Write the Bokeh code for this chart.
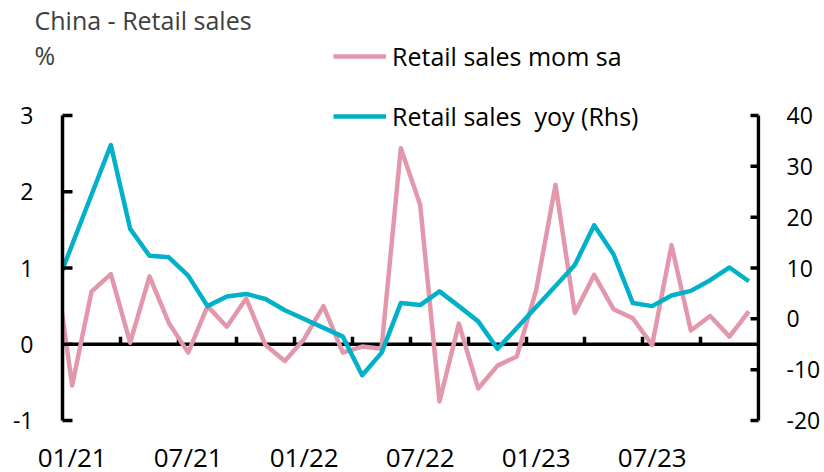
from bokeh.plotting import figure
from bokeh.models import (Range1d, LinearAxis, FixedTicker, Label, Legend,
                          LegendItem, ColumnDataSource)
from bokeh.embed import file_html
from bokeh.resources import INLINE
from bokeh.core.properties import value

# ---------------- data ----------------
months = ["2020-12",
          "2021-01", "2021-02", "2021-03", "2021-04", "2021-05", "2021-06",
          "2021-07", "2021-08", "2021-09", "2021-10", "2021-11", "2021-12",
          "2022-01", "2022-02", "2022-03", "2022-04", "2022-05", "2022-06",
          "2022-07", "2022-08", "2022-09", "2022-10", "2022-11", "2022-12",
          "2023-01", "2023-02", "2023-03", "2023-04", "2023-05", "2023-06",
          "2023-07", "2023-08", "2023-09", "2023-10", "2023-11", "2023-12"]

mom_sa = [1.26,
          -0.54, 0.69, 0.92, 0.02, 0.89, 0.28, -0.11, 0.50, 0.23, 0.60, -0.01, -0.22,
          0.07, 0.50, -0.11, -0.03, -0.06, 2.57, 1.83, -0.75, 0.27, -0.58, -0.28, -0.16,
          0.71, 2.09, 0.41, 0.91, 0.46, 0.34, -0.01, 1.30, 0.18, 0.37, 0.10, 0.43]

# Jan/Feb are not published separately: no value, the line joins across the gap
yoy = [4.8,
       None, None, 34.2, 17.7, 12.4, 12.1, 8.5, 2.5, 4.4, 4.9, 3.9, 1.7,
       None, None, -3.5, -11.1, -6.7, 3.1, 2.7, 5.4, 2.5, -0.5, -5.9, -1.8,
       None, None, 10.6, 18.4, 12.7, 3.1, 2.5, 4.6, 5.5, 7.6, 10.1, 7.4]

x_tick_months = ["2021-01", "2021-07", "2022-01", "2022-07", "2023-01", "2023-07"]
x_tick_labels = ["01/21", "07/21", "01/22", "07/22", "01/23", "07/23"]
left_ticks = [-1, 0, 1, 2, 3]
right_ticks = [-20, -10, 0, 10, 20, 30, 40]

title_text = "China - Retail sales"
unit_text = "%"
mom_label = "Retail sales mom sa"
yoy_label = "Retail sales  yoy (Rhs)"

# ---------------- layout (pixels on the canvas) ----------------
W, H = 824, 472
B_LEFT, B_RIGHT = 34, 64          # borders holding the tick labels
AX_L, AX_R = 62, 758              # x of left / right axis lines
AX_TOP, AX_BOT = 115, 420         # y of top / bottom ticks
XLAB_MID = 456                    # vertical centre of the month labels
FONT = "Open Sans"
PINK = "#E397AB"
TEAL = "#00B1C9"
LW = 3.5

first = months.index("2021-01")
n_cat = len(months) - first


def xpos(m):
    # category centre, Jan 2021 occupies [0, 1]
    return months.index(m) - first + 0.5


fw = W - B_LEFT - B_RIGHT
xs = (AX_R - AX_L) / n_cat
x_start = -(AX_L - B_LEFT) / xs
x_end = n_cat + (B_LEFT + fw - AX_R) / xs

l_lo, l_hi = left_ticks[0], left_ticks[-1]
r_lo, r_hi = right_ticks[0], right_ticks[-1]
ls = (AX_BOT - AX_TOP) / (l_hi - l_lo)
rs = (AX_BOT - AX_TOP) / (r_hi - r_lo)
y_range = Range1d(l_lo - (H - AX_BOT) / ls, l_hi + AX_TOP / ls)
r_range = Range1d(r_lo - (H - AX_BOT) / rs, r_hi + AX_TOP / rs)

mom_src = ColumnDataSource(dict(x=[xpos(m) for m in months], y=mom_sa))
yx = [xpos(m) for m, v in zip(months, yoy) if v is not None]
yv = [v for v in yoy if v is not None]
yoy_src = ColumnDataSource(dict(x=yx, y=yv))

p = figure(width=W, height=H, output_backend="svg", toolbar_location=None,
           x_range=Range1d(x_start, x_end), y_range=y_range,
           x_axis_location=None,
           min_border_left=B_LEFT, min_border_right=B_RIGHT,
           min_border_top=0, min_border_bottom=0)
p.extra_y_ranges = {"rhs": r_range}
p.grid.visible = False
p.outline_line_color = None
p.background_fill_color = "white"
p.border_fill_color = "white"

# left axis: tick labels (line and ticks drawn below, limited to -1..3)
ya = p.yaxis[0]
ya.ticker = FixedTicker(ticks=left_ticks)
ya.major_label_overrides = {t: str(t) for t in left_ticks}
ya.axis_line_color = None
ya.major_tick_line_color = None
ya.minor_tick_line_color = None
ya.major_tick_in = 0
ya.major_tick_out = 0
ya.major_label_standoff = 1
ya.major_label_text_font = FONT
ya.major_label_text_font_size = "23px"
ya.major_label_text_color = "black"

# right axis
ra = LinearAxis(y_range_name="rhs", ticker=FixedTicker(ticks=right_ticks))
ra.major_label_overrides = {t: str(t) for t in right_ticks}
ra.axis_line_color = None
ra.major_tick_line_color = None
ra.minor_tick_line_color = None
ra.major_tick_in = 0
ra.major_tick_out = 0
ra.major_label_standoff = 26
ra.major_label_text_font = FONT
ra.major_label_text_font_size = "23px"
ra.major_label_text_color = "black"
p.add_layout(ra, "right")

# horizontal axis line at zero with quarterly tick marks
qt = list(range(3, n_cat, 3))
p.segment(x0=[0], y0=[0], x1=[n_cat], y1=[0], line_color="black", line_width=LW)
p.segment(x0=qt, y0=[0] * len(qt), x1=qt, y1=[7.5 / ls] * len(qt),
          line_color="black", line_width=LW)

# series
r_mom = p.line("x", "y", source=mom_src, line_color=PINK, line_width=4.5,
               line_join="round")
r_yoy = p.line("x", "y", source=yoy_src, y_range_name="rhs", line_color=TEAL,
               line_width=4.5, line_join="round")

# series are shown only from the left axis on
p.quad(left=[x_start], right=[0], bottom=[l_lo], top=[l_hi],
       fill_color="white", line_color=None)

# vertical axis lines and inward ticks
p.segment(x0=[0], y0=[l_lo], x1=[0], y1=[l_hi], line_color="black", line_width=LW)
p.segment(x0=[0] * len(left_ticks), y0=left_ticks,
          x1=[10 / xs] * len(left_ticks), y1=left_ticks,
          line_color="black", line_width=LW)
p.segment(x0=[n_cat], y0=[r_lo], x1=[n_cat], y1=[r_hi], y_range_name="rhs",
          line_color="black", line_width=LW)
p.segment(x0=[n_cat] * len(right_ticks), y0=right_ticks,
          x1=[n_cat - 8 / xs] * len(right_ticks), y1=right_ticks,
          y_range_name="rhs", line_color="black", line_width=LW)

# month labels
p.text(x=[xpos(m) for m in x_tick_months],
       y=[l_lo - (XLAB_MID - AX_BOT) / ls] * len(x_tick_months),
       text=x_tick_labels, text_align="center", text_baseline="middle",
       text_font=value(FONT), text_font_size="26px", text_color="black")

legend = Legend(items=[LegendItem(label=mom_label, renderers=[r_mom]),
                       LegendItem(label=yoy_label, renderers=[r_yoy])],
                location=(299, 339), orientation="vertical",
                glyph_width=53, glyph_height=30, label_height=30, spacing=26,
                padding=0, margin=0, label_standoff=6,
                border_line_color=None, background_fill_alpha=0,
                label_text_font=FONT, label_text_font_size="25px",
                label_text_color="black")
p.add_layout(legend)

p.add_layout(Label(x=0, y=H - 19, x_units="screen", y_units="screen",
                   text=title_text, text_font=FONT, text_font_size="25px",
                   text_color="#404040", text_baseline="alphabetic"))
p.add_layout(Label(x=0, y=H - 54, x_units="screen", y_units="screen",
                   text=unit_text, text_font=FONT, text_font_size="25px",
                   text_color="#404040", text_baseline="alphabetic"))

open("out.html", "w").write(file_html(p, INLINE))
